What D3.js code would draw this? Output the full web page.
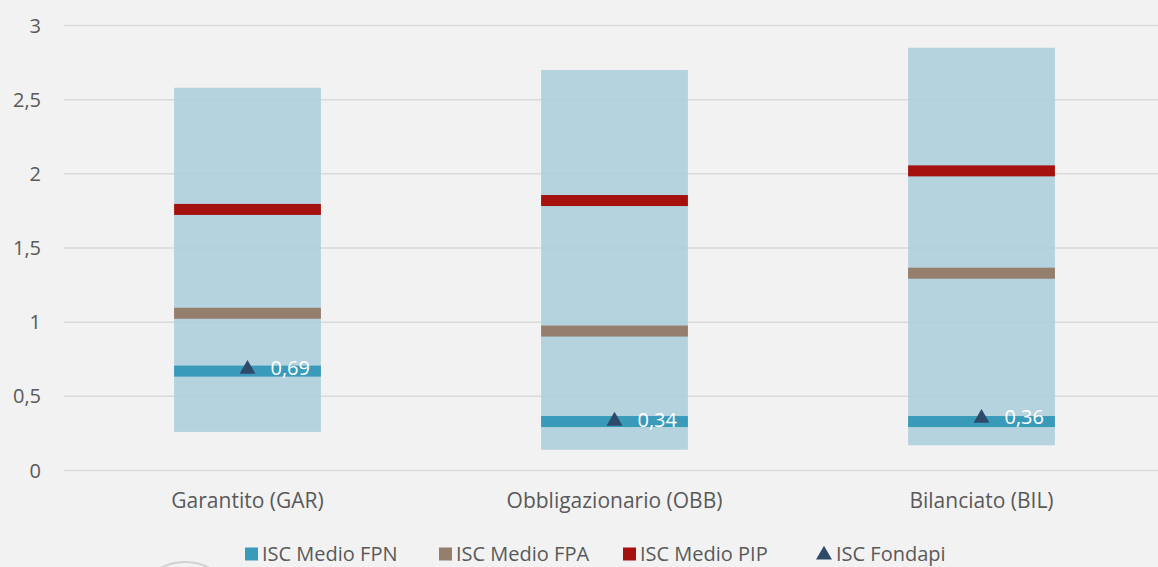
<!DOCTYPE html>
<html>
<head>
<meta charset="utf-8">
<script src="https://cdn.jsdelivr.net/npm/d3@7"></script>
<style>
  body { margin: 0; background: #f2f2f2; }
  svg { display: block; font-family: "Open Sans", sans-serif; }
</style>
</head>
<body>
<script>
// ranges and averages of ISC per fund type

var categories = ["Garantito (GAR)", "Obbligazionario (OBB)", "Bilanciato (BIL)"];
var rangeMin = [0.26, 0.14, 0.17];
var rangeMax = [2.58, 2.70, 2.85];
var iscFPN = [0.67, 0.33, 0.33];
var iscFPA = [1.06, 0.94, 1.33];
var iscPIP = [1.76, 1.82, 2.02];
var iscFondapi = [0.69, 0.34, 0.36];
var yTicks = [0, 0.5, 1, 1.5, 2, 2.5, 3];
var legendLabels = ["ISC Medio FPN", "ISC Medio FPA", "ISC Medio PIP", "ISC Fondapi"];

var width = 1158;
var height = 567;

var svg = d3.select("body").append("svg")
    .attr("width", width)
    .attr("height", height);

svg.append("rect")
    .attr("width", width)
    .attr("height", height)
    .attr("fill", "#f2f2f2");

var x = d3.scaleBand()
    .domain(categories)
    .range([64, 1165])
    .padding(0);

var y = d3.scaleLinear()
    .domain([0, 3])
    .range([470.5, 25.5]);

var fmt = function(v) { return String(v).replace(".", ","); };

// gridlines
svg.selectAll("line.grid")
    .data(yTicks)
    .enter()
    .append("line")
    .attr("class", "grid")
    .attr("x1", 64)
    .attr("x2", width)
    .attr("y1", function(d) { return y(d); })
    .attr("y2", function(d) { return y(d); })
    .attr("stroke", "#d9d9d9")
    .attr("stroke-width", 1.5);

// y tick labels
svg.selectAll("text.ytick")
    .data(yTicks)
    .enter()
    .append("text")
    .attr("class", "ytick")
    .attr("x", 41)
    .attr("y", function(d) { return y(d); })
    .attr("dy", "0.35em")
    .attr("text-anchor", "end")
    .attr("font-size", 20)
    .attr("fill", "#595959")
    .text(function(d) { return fmt(d); });

var barW = x.bandwidth() * 0.4;
var barX = function(i) { return x(categories[i]) + (x.bandwidth() - barW) / 2; };

// range bars
svg.selectAll("rect.range")
    .data(categories)
    .enter()
    .append("rect")
    .attr("class", "range")
    .attr("x", function(d, i) { return barX(i); })
    .attr("y", function(d, i) { return y(rangeMax[i]); })
    .attr("width", barW)
    .attr("height", function(d, i) { return y(rangeMin[i]) - y(rangeMax[i]); })
    .attr("fill", "#a9cedb")
    .attr("fill-opacity", 0.85);

// average lines
var series = [
  { values: iscFPN, color: "#3a9aba" },
  { values: iscFPA, color: "#957e6b" },
  { values: iscPIP, color: "#a5110e" }
];

series.forEach(function(s) {
  svg.selectAll(null)
    .data(s.values)
    .enter()
    .append("rect")
    .attr("x", function(d, i) { return barX(i); })
    .attr("y", function(d) { return y(d) - 5.5; })
    .attr("width", barW)
    .attr("height", 11)
    .attr("fill", s.color);
});

// fondapi markers
var tri = d3.symbol().type(d3.symbolTriangle).size(110);

svg.selectAll("path.fondapi")
    .data(iscFondapi)
    .enter()
    .append("path")
    .attr("class", "fondapi")
    .attr("d", tri)
    .attr("transform", function(d, i) {
      return "translate(" + (x(categories[i]) + x.bandwidth() / 2) + "," + (y(d) + 1) + ")";
    })
    .attr("fill", "#2e4a6a");

svg.selectAll("text.flabel")
    .data(iscFondapi)
    .enter()
    .append("text")
    .attr("class", "flabel")
    .attr("x", function(d, i) { return x(categories[i]) + x.bandwidth() / 2 + 23; })
    .attr("y", function(d) { return y(d); })
    .attr("dy", "0.35em")
    .attr("font-size", 20)
    .attr("fill", "#ffffff")
    .text(function(d) { return fmt(d.toFixed(2)); });

// category labels
svg.selectAll("text.cat")
    .data(categories)
    .enter()
    .append("text")
    .attr("class", "cat")
    .attr("x", function(d) { return x(d) + x.bandwidth() / 2; })
    .attr("y", 501)
    .attr("dy", "0.35em")
    .attr("text-anchor", "middle")
    .attr("font-size", 21)
    .attr("fill", "#595959")
    .text(function(d) { return d; });

// faint logo remnant bottom-left
svg.append("ellipse")
    .attr("cx", 185)
    .attr("cy", 600)
    .attr("rx", 45)
    .attr("ry", 38)
    .attr("fill", "none")
    .attr("stroke", "#d0d0d0")
    .attr("stroke-width", 2);

// legend
var legendX = [245, 439, 623, 817];
var legendColors = ["#3a9aba", "#957e6b", "#a5110e", "#2e4a6a"];

var legend = svg.selectAll("g.legend")
    .data(legendLabels)
    .enter()
    .append("g")
    .attr("class", "legend")
    .attr("transform", function(d, i) { return "translate(" + legendX[i] + ",554)"; });

legend.each(function(d, i) {
  var g = d3.select(this);
  if (i < 3) {
    g.append("rect")
      .attr("x", 0)
      .attr("y", -6.5)
      .attr("width", 13)
      .attr("height", 13)
      .attr("fill", legendColors[i]);
  } else {
    g.append("path")
      .attr("d", tri)
      .attr("transform", "translate(7,1)")
      .attr("fill", legendColors[i]);
  }
  g.append("text")
    .attr("x", i < 3 ? 17 : 19)
    .attr("y", 0)
    .attr("dy", "0.35em")
    .attr("font-size", 20)
    .attr("fill", "#595959")
    .text(d);
});
</script>
</body>
</html>
